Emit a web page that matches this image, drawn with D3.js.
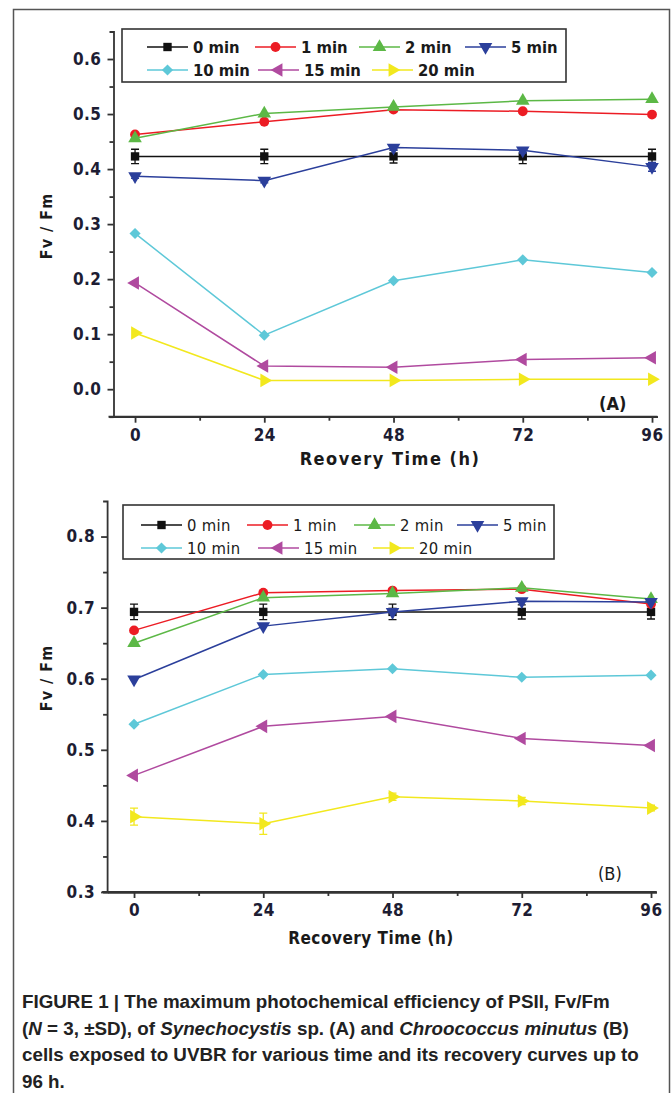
<!DOCTYPE html>
<html>
<head>
<meta charset="utf-8">
<script src="https://cdn.jsdelivr.net/npm/d3@7"></script>
<style>
  body { margin: 0; background: #fff; }
  svg { display: block; }
  .narrow { font-family: "Liberation Sans Narrow", "Arial Narrow", "DejaVu Sans Condensed", sans-serif; }
  .cap { font-family: "Liberation Sans", Arial, Helvetica, sans-serif; font-weight: bold; font-size: 18.8px; fill: #222; }
</style>
</head>
<body>
<svg id="stage" width="672" height="1093"></svg>
<script>
var svg = d3.select("#stage");

// data
var hours = [0, 24, 48, 72, 96];
var seriesNames = ["0 min", "1 min", "2 min", "5 min", "10 min", "15 min", "20 min"];

// panel A - Synechocystis sp.
var a0  = [0.423, 0.423, 0.423, 0.423, 0.423];
var a1  = [0.463, 0.486, 0.508, 0.505, 0.499];
var a2  = [0.456, 0.501, 0.513, 0.524, 0.527];
var a5  = [0.387, 0.379, 0.439, 0.434, 0.404];
var a10 = [0.283, 0.098, 0.197, 0.235, 0.212];
var a15 = [0.193, 0.042, 0.040, 0.054, 0.057];
var a20 = [0.102, 0.016, 0.016, 0.018, 0.018];
var aErr0 = [0.013, 0.013, 0.012, 0.013, 0.013];
var aErr5 = [0.004, 0.004, 0.005, 0.005, 0.008];

// panel B - Chroococcus minutus
var b0  = [0.694, 0.694, 0.694, 0.694, 0.694];
var b1  = [0.668, 0.721, 0.724, 0.726, 0.705];
var b2  = [0.650, 0.714, 0.720, 0.728, 0.712];
var b5  = [0.599, 0.674, 0.694, 0.709, 0.708];
var b10 = [0.536, 0.606, 0.614, 0.602, 0.605];
var b15 = [0.464, 0.533, 0.547, 0.516, 0.506];
var b20 = [0.406, 0.396, 0.434, 0.428, 0.418];
var bErr0  = [0.011, 0.011, 0.011, 0.010, 0.010];
var bErr20 = [0.012, 0.015, 0.005, 0.005, 0.004];

var yTicksA = [0.0, 0.1, 0.2, 0.3, 0.4, 0.5, 0.6];
var yTicksB = [0.3, 0.4, 0.5, 0.6, 0.7, 0.8];
var xTicks = [0, 24, 48, 72, 96];

// styles
var colors = ["#111111", "#ec1c24", "#5cb846", "#2b3f9b", "#5ec8d8", "#b04a9f", "#f2e81e"];
var shapes = ["square", "circle", "up", "down", "diamond", "left", "right"];

var getSymbol = function(shape){
  var sym = d3.symbol();
  if (shape === "square" || shape === "diamond") return sym.type(d3.symbolSquare).size(shape === "square" ? 70 : 62)();
  if (shape === "circle") return sym.type(d3.symbolCircle).size(76)();
  return sym.type(d3.symbolTriangle).size(80)();
};
var getRotate = function(shape){
  return {diamond: 45, down: 180, left: -90, right: 90}[shape] || 0;
};

var drawMarker = function(g, shape, color, x, y){
  g.append("path")
    .attr("d", getSymbol(shape))
    .attr("transform", "translate(" + x + "," + y + ") rotate(" + getRotate(shape) + ")")
    .attr("fill", color);
};

////////////////////////////// PANEL

var drawPanel = function(cfg){
  var g = svg.append("g");
  var x = d3.scaleLinear().domain(cfg.xDomain).range(cfg.xRange);
  var y = d3.scaleLinear().domain(cfg.yDomain).range(cfg.yRange);
  var axisColor = "#333";

  // x axis
  var xMinor = d3.range(12, 96, 24);
  g.append("g").attr("transform", "translate(0," + cfg.yRange[0] + ")")
    .call(d3.axisBottom(x).tickValues(xMinor).tickSize(4).tickSizeOuter(0).tickFormat(""));
  var xa = g.append("g").attr("transform", "translate(0," + cfg.yRange[0] + ")")
    .call(d3.axisBottom(x).tickValues(xTicks).tickSize(6).tickSizeOuter(0).tickPadding(6));
  xa.selectAll("text").attr("class", "narrow").attr("font-size", 17).attr("font-weight", "bold")
    .attr("fill", "#1d1d33").attr("letter-spacing", "0.5px");

  // y axis
  g.append("g").attr("transform", "translate(" + cfg.xRange[0] + ",0)")
    .call(d3.axisLeft(y).tickValues(cfg.yMinor).tickSize(4).tickSizeOuter(4).tickFormat(""));
  var yb = g.append("g").attr("transform", "translate(" + cfg.xRange[0] + ",0)")
    .call(d3.axisLeft(y).tickValues(cfg.yTicks).tickSize(6).tickSizeOuter(0).tickPadding(6).tickFormat(d3.format(".1f")));
  yb.selectAll("text").attr("class", "narrow").attr("font-size", 17).attr("font-weight", "bold")
    .attr("fill", "#1d1d33").attr("letter-spacing", "0.5px");
  yb.select(".domain").remove();

  g.selectAll(".domain, .tick line").attr("stroke", axisColor).attr("stroke-width", 1.8);
  // x axis line runs a little past the y axis
  g.append("line")
    .attr("x1", cfg.xRange[0] - 5).attr("x2", cfg.xRange[1])
    .attr("y1", cfg.yRange[0]).attr("y2", cfg.yRange[0])
    .attr("stroke", axisColor).attr("stroke-width", 2);

  // series
  cfg.series.forEach(function(vals, si){
    var pts = hours.map(function(h, i){ return {h: h, v: vals[i], e: cfg.errs[si] ? cfg.errs[si][i] : 0}; });
    var line = d3.line().x(function(d){ return x(d.h); }).y(function(d){ return y(d.v); });
    g.append("path").datum(pts).attr("d", line)
      .attr("fill", "none").attr("stroke", colors[si]).attr("stroke-width", 1.5);
    pts.forEach(function(d){
      if (d.e > 0) {
        var cx = x(d.h), top = y(d.v + d.e), bot = y(d.v - d.e);
        g.append("path")
          .attr("d", "M" + cx + "," + top + "V" + bot + "M" + (cx - 4) + "," + top + "H" + (cx + 4) + "M" + (cx - 4) + "," + bot + "H" + (cx + 4))
          .attr("stroke", colors[si]).attr("stroke-width", 1.3).attr("fill", "none");
      }
      drawMarker(g, shapes[si], colors[si], x(d.h), y(d.v));
    });
  });

  // legend
  var lg = g.append("g");
  lg.append("rect")
    .attr("x", cfg.legend.x).attr("y", cfg.legend.y)
    .attr("width", cfg.legend.w).attr("height", cfg.legend.h)
    .attr("fill", "#fff").attr("stroke", "#333").attr("stroke-width", 1.6);
  seriesNames.forEach(function(name, si){
    var row = si < 4 ? 0 : 1;
    var col = si < 4 ? si : si - 4;
    var lx = cfg.legend.cols[row][col];
    var ly = cfg.legend.rows[row];
    lg.append("line").attr("x1", lx).attr("x2", lx + 41).attr("y1", ly).attr("y2", ly)
      .attr("stroke", colors[si]).attr("stroke-width", 1.5);
    drawMarker(lg, shapes[si], colors[si], lx + 20.5, ly);
    lg.append("text").attr("class", "narrow")
      .attr("x", lx + 46).attr("y", ly).attr("dy", "0.36em")
      .attr("font-size", 16.5).attr("font-weight", cfg.legend.weight)
      .attr("letter-spacing", cfg.legend.spacing).attr("fill", "#1a1a1a")
      .text(name);
  });

  // titles
  g.append("text").attr("class", "narrow")
    .attr("x", cfg.xTitle.x).attr("y", cfg.xTitle.y)
    .attr("text-anchor", "middle").attr("font-size", cfg.xTitle.size).attr("font-weight", "bold")
    .attr("letter-spacing", cfg.xTitle.spacing).attr("fill", "#1a1a1a")
    .text(cfg.xTitle.text);
  g.append("text").attr("class", "narrow")
    .attr("transform", "translate(" + cfg.yTitle.x + "," + cfg.yTitle.y + ") rotate(-90)")
    .attr("text-anchor", "middle").attr("font-size", 16).attr("font-weight", "bold")
    .attr("letter-spacing", "1px").attr("fill", "#1a1a1a")
    .text("Fv / Fm");
  g.append("text").attr("class", "narrow")
    .attr("x", cfg.tag.x).attr("y", cfg.tag.y)
    .attr("font-size", 18).attr("font-weight", cfg.tag.weight).attr("fill", "#1a1a1a")
    .text(cfg.tag.text);
};

// frame around the figure
svg.append("path")
  .attr("d", "M13.5,1093V9.5H669.5V1093")
  .attr("fill", "none").attr("stroke", "#555").attr("stroke-width", 1.5);

drawPanel({
  series: [a0, a1, a2, a5, a10, a15, a20],
  errs: [aErr0, null, null, aErr5, null, null, null],
  xDomain: [-4, 97], xRange: [113.5, 657.4],
  yDomain: [-0.05, 0.65], yRange: [416.7, 31.5],
  yTicks: yTicksA, yMinor: d3.range(-0.05, 0.65, 0.1).map(function(v){ return +v.toFixed(2); }),
  legend: {x: 122, y: 29, w: 444, h: 53, weight: "bold", spacing: "0px",
           rows: [47, 70], cols: [[147, 255, 359, 465], [147, 258, 372]]},
  xTitle: {text: "Reovery Time (h)", x: 390, y: 465, size: 18, spacing: "1.5px"},
  yTitle: {x: 52, y: 226},
  tag: {x: 599, y: 410, text: "(A)", weight: "bold"}
});

drawPanel({
  series: [b0, b1, b2, b5, b10, b15, b20],
  errs: [bErr0, null, null, null, null, null, bErr20],
  xDomain: [-5, 97], xRange: [107.1, 656.4],
  yDomain: [0.3, 0.85], yRange: [892, 501],
  yTicks: yTicksB, yMinor: d3.range(0.35, 0.85, 0.1).map(function(v){ return +v.toFixed(2); }),
  legend: {x: 123, y: 505, w: 431, h: 54, weight: "normal", spacing: "0.3px",
           rows: [525, 548], cols: [[141, 247, 354, 457], [141, 258, 373]]},
  xTitle: {text: "Recovery Time (h)", x: 371, y: 944, size: 17, spacing: "0.5px"},
  yTitle: {x: 52, y: 678},
  tag: {x: 598, y: 880, text: "(B)", weight: "normal"}
});

////////////////////////////// CAPTION

var capLines = [
  [["FIGURE 1 | The maximum photochemical efficiency of PSII, Fv/Fm", false]],
  [["(", false], ["N", true], [" = 3, \u00b1SD), of ", false], ["Synechocystis", true], [" sp. (A) and ", false], ["Chroococcus minutus", true], [" (B)", false]],
  [["cells exposed to UVBR for various time and its recovery curves up to", false]],
  [["96 h.", false]]
];
capLines.forEach(function(parts, i){
  var t = svg.append("text").attr("class", "cap").attr("x", 22).attr("y", 1008 + i * 26.6);
  parts.forEach(function(p){
    t.append("tspan").attr("font-style", p[1] ? "italic" : "normal").text(p[0]);
  });
});
</script>
</body>
</html>
